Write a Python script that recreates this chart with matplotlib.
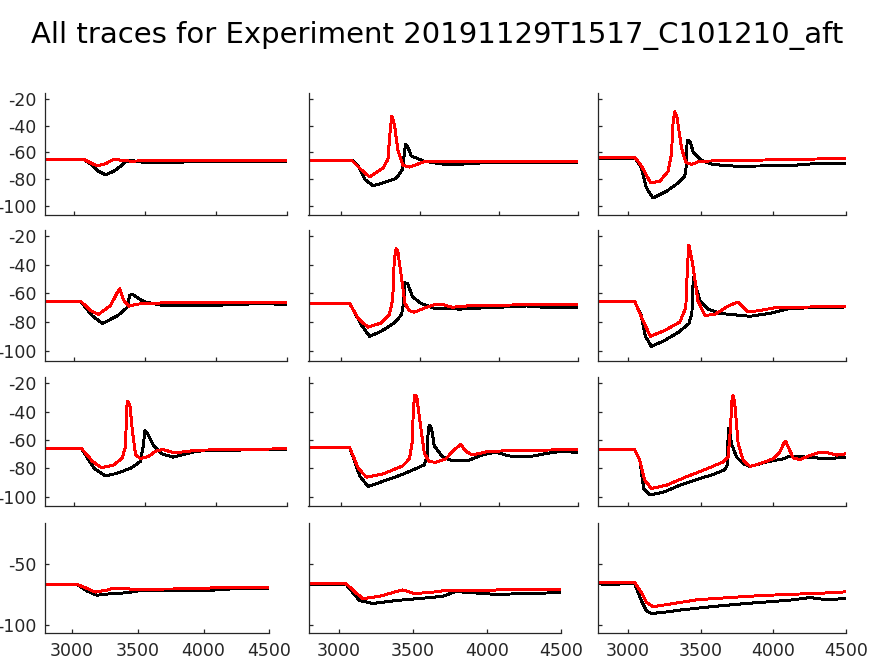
import matplotlib
matplotlib.use("Agg")
import matplotlib.pyplot as plt

plt.rcParams['font.family'] = ['DejaVu Sans']
plt.rcParams['axes.unicode_minus'] = False

TITLE = "All traces for Experiment 20191129T1517_C101210_aft"

XLIM = (2795, 4500)
YLIM = (-107, -15.5)
XTICKS = [3000, 3500, 4000, 4500]
YTICKS_MAIN = [-100, -80, -60, -40, -20]
YTICKS_LAST = [-100, -50]

# ---- data: (time, membrane potential) black = trace 1, red = trace 2 ----
# row 1
p11_k_t = [2795, 3070, 3120, 3170, 3221, 3280, 3330, 3360, 3400, 3500, 3700, 3900, 4500]
p11_k_v = [-65.2, -65.2, -69, -74, -76.6, -74, -70, -67, -66, -67.5, -67.5, -66.5, -66.5]
p11_r_t = [2795, 3075, 3120, 3163, 3220, 3260, 3290, 3340, 3400, 3550, 4500]
p11_r_v = [-65.5, -65.5, -68, -70, -68.5, -66, -65, -66, -66.5, -66, -65.8]

p12_k_t = [2795, 3067, 3110, 3150, 3203, 3260, 3349, 3387, 3400, 3408, 3420, 3444, 3527, 3663, 3810, 3950, 4500]
p12_k_v = [-65.6, -65.6, -70, -80, -84.9, -83, -79.4, -73, -62, -53.9, -55, -62.6, -66.6, -69, -68.5, -67.2, -67.2]
p12_r_t = [2795, 3070, 3120, 3182, 3266, 3297, 3312, 3322, 3339, 3360, 3391, 3433, 3527, 3700, 4500]
p12_r_v = [-66, -66, -72, -78.3, -71.7, -65, -42.5, -32.7, -40, -58.4, -69.5, -70.9, -66.9, -67, -66.5]

p13_k_t = [2795, 3050, 3092, 3127, 3173, 3265, 3345, 3391, 3403, 3407, 3426, 3449, 3507, 3587, 3748, 4116, 4323, 4500]
p13_k_v = [-64.5, -64.5, -71.5, -86.5, -94, -89, -82.8, -77.8, -69, -51, -51.5, -59.5, -66, -69, -70.3, -69.8, -68, -68.5]
p13_r_t = [2795, 3050, 3092, 3156, 3219, 3276, 3299, 3311, 3322, 3338, 3368, 3398, 3437, 3495, 3851, 4334, 4500]
p13_r_v = [-64, -64, -70, -82.8, -81.5, -74, -61.5, -36.5, -29.5, -34, -56.5, -67.3, -69, -66.5, -65.8, -64.8, -64.8]

# row 2
p21_k_t = [2795, 3047, 3128, 3199, 3304, 3374, 3390, 3409, 3444, 3491, 3631, 3864, 4098, 4332, 4500]
p21_k_v = [-65.8, -65.8, -75.7, -81, -75.7, -69.8, -61.6, -60.5, -62.9, -65.8, -68.6, -68.6, -68, -67, -68]
p21_r_t = [2795, 3047, 3117, 3171, 3257, 3304, 3320, 3350, 3386, 3444, 3631, 4500]
p21_r_v = [-65.6, -65.6, -72, -74.7, -68.4, -59.3, -56.8, -65, -69, -67.5, -66.6, -66.3]

p22_k_t = [2795, 3056, 3129, 3181, 3254, 3337, 3383, 3396, 3404, 3421, 3452, 3504, 3587, 3754, 3921, 4087, 4171, 4317, 4500]
p22_k_v = [-67.2, -67.2, -82, -90, -86.5, -80.7, -74.8, -66.7, -52.6, -53, -62.3, -66.9, -70.4, -71, -70, -69.3, -68.8, -70, -70]
p22_r_t = [2795, 3056, 3108, 3171, 3254, 3306, 3327, 3337, 3348, 3358, 3379, 3404, 3431, 3462, 3525, 3598, 3650, 3702, 3796, 4171, 4500]
p22_r_v = [-67.2, -67.2, -77.4, -83.6, -80.7, -74.9, -64.5, -36.7, -29, -29.7, -46, -66.9, -72, -73.2, -70.4, -67.6, -68, -69.7, -68.8, -67.9, -67.9]

p23_k_t = [2795, 3046, 3090, 3120, 3160, 3250, 3350, 3420, 3440, 3447, 3453, 3470, 3495, 3550, 3633, 3840, 3977, 4115, 4300, 4500]
p23_k_v = [-66, -66, -75, -90, -97, -93, -87, -81, -74, -55, -48.8, -56, -65, -71, -74, -76, -74, -70.5, -70, -69.5]
p23_r_t = [2795, 3046, 3090, 3154, 3250, 3357, 3398, 3410, 3419, 3446, 3481, 3529, 3598, 3688, 3757, 3826, 3909, 4012, 4500]
p23_r_v = [-65.6, -65.6, -76, -90, -86, -80, -70, -40, -26.3, -40, -65, -75.4, -74.7, -69, -66, -73, -72, -70, -69]

# row 3
p31_k_t = [2795, 3051, 3140, 3222, 3304, 3397, 3467, 3486, 3498, 3519, 3561, 3619, 3696, 3771, 3864, 4098, 4500]
p31_k_v = [-66, -66, -80, -85.5, -83.5, -80, -75.2, -64.3, -53.6, -56, -64.3, -69.8, -72.2, -70.3, -67.9, -67.2, -66.7]
p31_r_t = [2795, 3051, 3128, 3192, 3280, 3339, 3362, 3369, 3376, 3393, 3409, 3432, 3467, 3526, 3572, 3626, 3701, 3771, 3864, 4500]
p31_r_v = [-66, -66, -75, -79.7, -77.6, -72.8, -64.3, -38.4, -32.4, -36, -52.7, -70.4, -73.2, -71.5, -68, -66.7, -69.1, -68.4, -67.2, -66.2]

p32_k_t = [2795, 3000, 3005, 3040, 3056, 3119, 3172, 3266, 3391, 3527, 3544, 3552, 3561, 3573, 3590, 3642, 3705, 3810, 3893, 3977, 4061, 4186, 4312, 4395, 4500]
p32_k_v = [-65.5, -65.5, -65, -65, -65.5, -85.5, -93, -89.2, -84.3, -77.6, -71.9, -52, -49.6, -52, -64.3, -71.9, -74.8, -74.3, -70.6, -68.6, -71.3, -71.9, -69.3, -68, -68.9]
p32_r_t = [2795, 3056, 3109, 3161, 3266, 3391, 3433, 3450, 3458, 3467, 3479, 3500, 3527, 3559, 3601, 3663, 3715, 3757, 3789, 3831, 3935, 4186, 4500]
p32_r_v = [-65.5, -65.5, -80, -86.3, -84, -78.3, -73.3, -62.1, -37.3, -28.2, -29.4, -47.3, -69.6, -75.3, -75.8, -73.3, -67, -63.1, -68, -70.6, -68, -67.3, -66.8]

p33_k_t = [2795, 3046, 3081, 3108, 3150, 3242, 3357, 3472, 3587, 3667, 3686, 3690, 3697, 3713, 3748, 3794, 3840, 3955, 4070, 4116, 4231, 4369, 4500]
p33_k_v = [-67, -67, -74.5, -94.3, -98.9, -97, -92, -88, -84.4, -81, -77, -52.3, -51.6, -62.8, -72.1, -76.8, -78.7, -75.6, -73.3, -71.4, -72.1, -73.3, -72.1]
p33_r_t = [2795, 3046, 3081, 3115, 3161, 3265, 3403, 3541, 3656, 3690, 3706, 3718, 3725, 3736, 3759, 3794, 3840, 3909, 4000, 4046, 4074, 4086, 4104, 4139, 4185, 4254, 4323, 4369, 4438, 4500]
p33_r_v = [-66.8, -66.8, -74.5, -88.5, -94.3, -92, -86, -80.5, -75.5, -72, -51.2, -29, -28.6, -34.9, -62.8, -74.5, -78.7, -76.8, -73.3, -68.6, -62.1, -60.9, -65.1, -72.8, -73.8, -71, -68.6, -68.9, -70.7, -69.8]

# row 4
p41_k_t = [2795, 3038, 3114, 3190, 3291, 3417, 3519, 3721, 3923, 4075, 4227, 4500]
p41_k_v = [-66.7, -66.7, -72.2, -75.6, -74.4, -73.6, -71.7, -71.4, -71.4, -71.4, -70.3, -70.3]
p41_r_t = [2795, 3038, 3101, 3177, 3266, 3316, 3392, 3468, 3544, 3975, 4075, 4500]
p41_r_v = [-66.7, -66.7, -69.4, -73, -71.4, -69.7, -70, -70.8, -70.6, -70.3, -69.4, -69.2]

p42_k_t = [2795, 3049, 3139, 3229, 3386, 3610, 3700, 3789, 3969, 4058, 4283, 4500]
p42_k_v = [-66.8, -66.8, -80, -82.4, -80, -77.6, -76.5, -72.6, -74.1, -75, -74.1, -73.5]
p42_r_t = [2795, 3049, 3161, 3274, 3430, 3509, 3610, 3700, 3924, 4193, 4500]
p42_r_v = [-66.2, -66.2, -78.5, -76.5, -71.2, -74.1, -73.5, -72, -72, -70.6, -70.6]

p43_k_t = [2795, 2850, 2900, 3046, 3092, 3127, 3161, 3242, 3357, 3587, 3817, 4000, 4138, 4254, 4323, 4369, 4500]
p43_k_v = [-65.9, -67, -66.5, -66, -80.2, -88.5, -90.7, -89.8, -87.9, -84.9, -82.4, -80.8, -79.4, -77.5, -78.6, -79.4, -78.3]
p43_r_t = [2795, 3046, 3092, 3127, 3173, 3265, 3472, 3702, 3932, 4162, 4392, 4500]
p43_r_v = [-65.1, -65.1, -73.3, -81.5, -85, -83.4, -79.4, -77.5, -75.8, -74.7, -73.6, -72.8]

PANELS = [
    [(p11_k_t, p11_k_v, p11_r_t, p11_r_v), (p12_k_t, p12_k_v, p12_r_t, p12_r_v), (p13_k_t, p13_k_v, p13_r_t, p13_r_v)],
    [(p21_k_t, p21_k_v, p21_r_t, p21_r_v), (p22_k_t, p22_k_v, p22_r_t, p22_r_v), (p23_k_t, p23_k_v, p23_r_t, p23_r_v)],
    [(p31_k_t, p31_k_v, p31_r_t, p31_r_v), (p32_k_t, p32_k_v, p32_r_t, p32_r_v), (p33_k_t, p33_k_v, p33_r_t, p33_r_v)],
    [(p41_k_t, p41_k_v, p41_r_t, p41_r_v), (p42_k_t, p42_k_v, p42_r_t, p42_r_v), (p43_k_t, p43_k_v, p43_r_t, p43_r_v)],
]

# ---- layout (pixels, from top-left) ----
W, H = 874, 656
COL_LEFT = [45, 308.5, 598.3]
COL_RIGHT = [287.3, 578.3, 845.7]
COL_RIGHT_LAST = [269.3, 561, 845.7]
ROW_TB = [(92.9, 215.4), (229.6, 360.7), (377.1, 506.4), (522.5, 633.2)]

AX_COLOR = '#262626'

fig = plt.figure(figsize=(W / 100, H / 100), dpi=100)
fig.text(0.5, 1 - 35 / H, TITLE, ha='center', va='center', fontsize=21, color='black')

for r in range(4):
    top, bot = ROW_TB[r]
    for c in range(3):
        left = COL_LEFT[c]
        right = COL_RIGHT_LAST[c] if r == 3 else COL_RIGHT[c]
        ax = fig.add_axes([left / W, 1 - bot / H, (right - left) / W, (bot - top) / H])
        kt, kv, rt, rv = PANELS[r][c]
        ax.plot(kt, kv, color='black', lw=1.4, antialiased=False)
        ax.plot(rt, rv, color='#ff0000', lw=1.4, antialiased=False)
        ax.set_xlim(*XLIM)
        ax.set_ylim(*YLIM)
        ax.set_xticks(XTICKS)
        ax.set_yticks(YTICKS_LAST if r == 3 else YTICKS_MAIN)
        for s in ['top', 'right']:
            ax.spines[s].set_visible(False)
        for s in ['left', 'bottom']:
            ax.spines[s].set_color(AX_COLOR)
            ax.spines[s].set_linewidth(0.9)
        ax.tick_params(direction='in', length=3, width=0.9, color=AX_COLOR,
                       labelcolor=AX_COLOR, labelsize=12.5, pad=6)
        if c != 0:
            ax.set_yticklabels([])
        if r != 3:
            ax.set_xticklabels([])

fig.savefig('out.png', dpi=100)
